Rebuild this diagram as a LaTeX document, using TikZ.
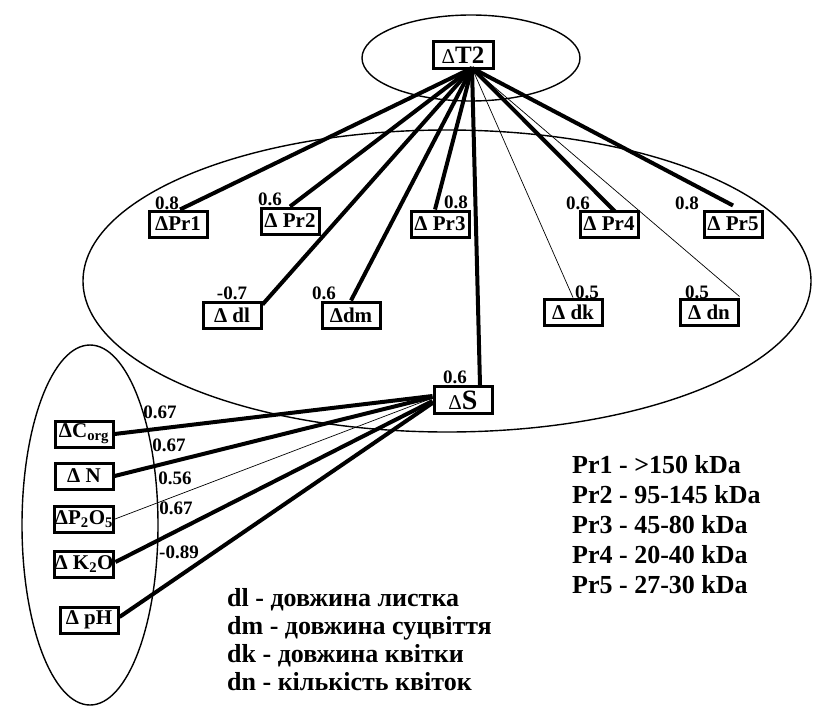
\documentclass[tikz,border=0pt]{standalone}
\usepackage{fontspec}
\setmainfont{Liberation Serif}
\newcommand\myfs[1]{\fontsize{#1}{#1}\selectfont}
\begin{document}
\begin{tikzpicture}[x=1pt,y=-1pt,
  box/.style={draw, line width=3pt, fill=white, minimum width=58pt, minimum height=26pt, inner sep=0.5pt, font=\bfseries\myfs{21}},
  lbl/.style={inner sep=0pt, font=\bfseries\myfs{19}},
  strong/.style={line width=4pt},
  weak/.style={line width=0.7pt},
  ell/.style={line width=1.4pt}]
\useasboundingbox (0,0) rectangle (813,706);
% ellipses
\draw[ell] (471,58) ellipse [x radius=109, y radius=43];
\draw[ell] (447,281) ellipse [x radius=364, y radius=151];
\draw[ell] (90,525) ellipse [x radius=68, y radius=180];
% nodes
\node[box, minimum width=60pt, minimum height=27pt, font=\bfseries\myfs{25}] (T2) at (463,55) {{\mdseries\myfs{21}Δ}T2};
\node[box] (Pr1) at (178,224) {ΔPr1};
\node[box] (Pr2) at (290,221) {Δ Pr2};
\node[box] (Pr3) at (440,224) {Δ Pr3};
\node[box] (Pr4) at (609,224) {Δ Pr4};
\node[box] (Pr5) at (733,224) {Δ Pr5};
\node[box] (dl) at (232,315) {Δ dl\hspace{12pt}};
\node[box] (dm) at (351,315) {Δdm};
\node[box] (dk) at (573,312) {Δ dk\hspace{6pt}};
\node[box] (dn) at (709,312) {Δ dn};
\node[box, minimum height=27pt, font=\bfseries\myfs{28}] (S) at (463,400) {{\mdseries\myfs{21}Δ}S\hspace{14pt}};
\node[box] (Corg) at (84,434) {ΔC\textsubscript{org}};
\node[box] (N) at (84,476) {Δ N\hspace{8pt}};
\node[box] (P2O5) at (84,519) {ΔP\textsubscript{2}O\textsubscript{5}};
\node[box] (K2O) at (84,564) {Δ K\textsubscript{2}O};
\node[box] (pH) at (89,620) {Δ pH};
% labels
\node[lbl] (lPr1) at (167,203) {0.8};
\node[lbl] (lPr2) at (270,199) {0.6};
\node[lbl] (lPr3) at (456,202) {0.8};
\node[lbl] (lPr4) at (578,203) {0.6};
\node[lbl] (lPr5) at (687,203) {0.8};
\node[lbl] (ldl) at (232,293) {-0.7};
\node[lbl] (ldm) at (324,293) {0.6};
\node[lbl] (ldk) at (587,292) {0.5};
\node[lbl] (ldn) at (697,292) {0.5};
\node[lbl] (lS) at (455,377) {0.6};
\node[lbl] (lCorg) at (160,412) {0.67};
\node[lbl] (lN) at (169,445) {0.67};
\node[lbl] (lP) at (175,478) {0.56};
\node[lbl] (lK) at (176,508) {0.67};
\node[lbl] (lpH) at (179,552) {-0.89};
% connectors from T2
\coordinate (t) at ([xshift=9pt,yshift=2pt]T2.south);
\draw[strong] (t) -- ([xshift=2pt]Pr1.north);
\draw[strong] (t) -- (Pr2.north);
\draw[strong] (t) -- ([xshift=-5pt]Pr3.north);
\draw[strong] (t) -- ([xshift=6pt,yshift=-2pt]Pr4.north);
\draw[strong] (t) -- ([yshift=4pt]Pr5.north);
\draw[strong] (t) -- ([yshift=-4pt]dl.north east);
\draw[strong] (t) -- (dm.north);
\draw[weak] (t) -- (dk.north);
\draw[weak] (t) -- ([yshift=1pt]dn.north east);
\draw[strong] (t) -- ([xshift=17pt]S.north);
% connectors to S
\draw[strong] (Corg.east) -- ([yshift=4pt]S.west);
\draw[strong] (N.east) -- ([yshift=3pt]S.west);
\draw[weak] (P2O5.east) -- ([yshift=2pt]S.west);
\draw[strong] ([yshift=2pt]K2O.east) -- ([yshift=-1pt]S.west);
\draw[strong] ([yshift=3pt]pH.east) -- ([yshift=-3pt]S.west);
% legends
\node[anchor=west, align=left, inner sep=0pt, font=\bfseries\fontsize{26}{28}\selectfont] (leg1) at (227,640)
  {dl - довжина листка\\dm - довжина суцвіття\\dk - довжина квітки\\dn - кількість квіток};
\node[anchor=west, align=left, inner sep=0pt, font=\bfseries\fontsize{26}{30}\selectfont] (leg2) at (572,525)
  {Pr1 - >150 kDa\\Pr2 - 95-145 kDa\\Pr3 - 45-80 kDa\\Pr4 - 20-40 kDa\\Pr5 - 27-30 kDa};
\end{tikzpicture}
\end{document}
